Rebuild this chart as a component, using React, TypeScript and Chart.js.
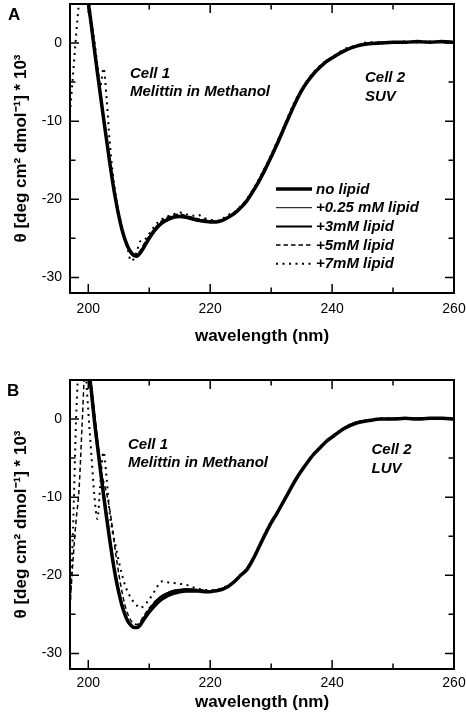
import { useEffect, useRef } from "react";
import { Chart, registerables } from "chart.js";

Chart.register(...registerables);

const FONT = '"Liberation Sans", Arial, Helvetica, sans-serif';

// ---------- data ----------
const wavelengths = [
  197, 197.5, 198, 198.5, 199, 199.5, 200, 200.5, 201, 201.5, 202, 202.5, 203, 203.5, 204, 204.5,
  205, 205.5, 206, 206.5, 207, 207.5, 208, 208.5, 209,
  210, 211, 212, 213, 214, 215, 216, 217, 218, 219, 220, 221, 222, 223, 224, 225, 226, 227, 228, 229,
  230, 231, 232, 233, 234, 235, 236, 237, 238, 239, 240,
  242, 244, 246, 248, 250, 252, 254, 256, 258, 260,
];

const seriesLabels = ["no lipid", "+0.25 mM lipid", "+3mM lipid", "+5mM lipid", "+7mM lipid"];

// Panel A (SUV)
const suvNoLipid = [
  24, 21, 18, 15, 11.5, 8.5, 5.2, 2.3, -0.8, -3.8, -6.7, -9.6, -12.4, -15.2, -17.8, -20.1,
  -22.1, -23.8, -25.1, -26.1, -26.8, -27.2, -27.3, -26.9, -26.3,
  -25.0, -23.9, -23.1, -22.6, -22.3, -22.2, -22.3, -22.5, -22.7, -22.8, -22.9, -22.9, -22.7, -22.3, -21.8, -21.1, -20.2, -19.0, -17.7, -16.2,
  -14.6, -12.9, -11.1, -9.3, -7.6, -6.1, -4.9, -3.9, -3.1, -2.4, -1.9,
  -1.0, -0.4, -0.1, 0.0, 0.1, 0.1, 0.2, 0.1, 0.2, 0.1,
];
const suvLipid025 = [
  23, 20, 17, 14, 11, 8, 5, 2, -1, -4, -7, -9.9, -12.8, -15.5, -18.1, -20.3,
  -22.3, -23.9, -25.2, -26.1, -26.7, -27.0, -27.0, -26.7, -26.1,
  -24.9, -23.8, -23.0, -22.5, -22.2, -22.1, -22.2, -22.4, -22.6, -22.7, -22.8, -22.8, -22.6, -22.2, -21.7, -21.0, -20.1, -18.9, -17.6, -16.1,
  -14.5, -12.8, -11.0, -9.2, -7.5, -6.0, -4.8, -3.8, -3.0, -2.3, -1.8,
  -0.9, -0.3, 0.0, 0.1, 0.1, 0.2, 0.1, 0.2, 0.1, 0.1,
];
const suvLipid3 = [
  24, 21, 18, 14.5, 11, 8, 5, 2.1, -1, -3.9, -6.8, -9.7, -12.5, -15.3, -17.9, -20.2,
  -22.2, -23.8, -25.1, -26.0, -26.7, -27.1, -27.2, -26.8, -26.2,
  -24.9, -23.8, -23.0, -22.5, -22.2, -22.1, -22.2, -22.4, -22.6, -22.8, -22.9, -22.9, -22.7, -22.3, -21.8, -21.1, -20.2, -19.0, -17.6, -16.1,
  -14.5, -12.8, -11.0, -9.2, -7.5, -6.0, -4.9, -3.9, -3.1, -2.4, -1.9,
  -1.0, -0.4, -0.1, 0.0, 0.0, 0.1, 0.1, 0.1, 0.1, 0.0,
];
const suvLipid5 = [
  22, 19, 16, 13, 10.5, 7.5, 4.8, 1.8, -1.2, -4.2, -7.0, -9.8, -12.6, -15.4, -18.0, -20.2,
  -22.2, -23.9, -25.2, -26.2, -26.9, -27.2, -27.1, -26.6, -25.9,
  -24.7, -23.6, -22.8, -22.3, -22.0, -21.9, -22.1, -22.3, -22.5, -22.6, -22.8, -22.8, -22.6, -22.2, -21.6, -20.9, -20.0, -18.8, -17.5, -16.0,
  -14.4, -12.7, -10.9, -9.1, -7.4, -5.9, -4.7, -3.8, -3.0, -2.3, -1.8,
  -0.9, -0.3, 0.0, 0.1, 0.1, 0.1, 0.2, 0.2, 0.1, 0.1,
];
const suvLipid7 = [
  -9, -4, 1, 5.5, 10, 9, 6, 3, 0.3, -2.8, -5.5, -3.2, -7, -12.5, -16.5, -19.5,
  -21.7, -23.5, -25.0, -26.5, -27.9, -27.6, -26.6, -25.4, -25.3,
  -24.4, -23.3, -22.6, -22.2, -21.9, -21.7, -21.9, -22.1, -22.0, -22.4, -22.6, -22.8, -22.5, -22.0, -21.6, -20.9, -20.0, -18.8, -17.4, -15.9,
  -14.3, -12.6, -10.9, -9.0, -7.3, -5.9, -4.7, -3.7, -2.9, -2.3, -1.8,
  -0.8, -0.3, 0.1, 0.1, 0.1, 0.2, 0.1, 0.2, 0.2, 0.1,
];

// Panel B (LUV)
const luvNoLipid = [
  24, 21, 18, 15, 12, 9.5, 6.8, 3.6, -0.2, -3.4, -6.6, -9.7, -12.6, -15.4, -18.0, -20.3,
  -22.2, -23.8, -25.0, -25.9, -26.4, -26.7, -26.7, -26.4, -25.8,
  -24.7, -23.8, -23.1, -22.6, -22.3, -22.1, -22.0, -22.0, -22.0, -22.1, -22.1, -22.0, -21.8, -21.4, -20.8, -20.0, -19.3, -18.0, -16.4, -14.8,
  -13.3, -12.0, -10.6, -9.2, -7.8, -6.6, -5.5, -4.5, -3.7, -2.9, -2.3,
  -1.2, -0.5, -0.2, 0.0, 0.0, 0.1, 0.0, 0.1, 0.1, 0.0,
];
const luvLipid025 = [
  22, 19, 16.5, 14, 11.5, 9.5, 7.5, 4.5, 1, -2.5, -5.8, -9, -12, -14.9, -17.6, -19.9,
  -21.9, -23.5, -24.8, -25.7, -26.3, -26.6, -26.6, -26.2, -25.5,
  -24.3, -23.3, -22.6, -22.2, -21.9, -21.8, -21.7, -21.8, -21.8, -21.9, -22.0, -21.9, -21.7, -21.3, -20.7, -19.9, -19.2, -17.9, -16.3, -14.7,
  -13.2, -11.9, -10.5, -9.1, -7.7, -6.5, -5.4, -4.4, -3.6, -2.8, -2.2,
  -1.1, -0.4, -0.1, 0.0, 0.1, 0.1, 0.1, 0.0, 0.1, 0.1,
];
const luvLipid3 = [
  23, 20, 17, 14.5, 12, 9.5, 7, 4, 0.5, -2.9, -6.2, -9.3, -12.3, -15.1, -17.8, -20.1,
  -22.0, -23.6, -24.9, -25.8, -26.4, -26.7, -26.7, -26.3, -25.6,
  -24.4, -23.4, -22.7, -22.3, -22.0, -21.9, -21.8, -21.8, -21.9, -22.0, -22.0, -21.9, -21.7, -21.4, -20.8, -20.0, -19.2, -17.9, -16.4, -14.8,
  -13.3, -12.0, -10.6, -9.2, -7.8, -6.6, -5.5, -4.5, -3.7, -2.9, -2.3,
  -1.2, -0.5, -0.2, 0.0, 0.0, 0.0, 0.1, 0.1, 0.0, 0.0,
];
const luvLipid5 = [
  -24, -18, -13, -8.8, -0.5, 7, 7.5, 3, -1, -4, -6.5, -8, -9.5, -11.5, -14.2, -17.2,
  -19.8, -22, -23.8, -25, -25.8, -26.2, -26.3, -26, -25.3,
  -24.2, -23.3, -22.7, -22.3, -22.0, -21.9, -21.9, -21.9, -21.9, -22.0, -22.0, -21.9, -21.7, -21.3, -20.7, -19.9, -19.2, -17.9, -16.3, -14.7,
  -13.2, -11.9, -10.5, -9.1, -7.7, -6.5, -5.4, -4.4, -3.6, -2.8, -2.2,
  -1.1, -0.4, -0.1, 0.0, 0.1, 0.0, 0.1, 0.1, 0.0, 0.1,
];
const luvLipid7 = [
  -24, -14, 0, 8, 12, 7, 1, -4.5, -9.8, -12.8, -8, -4.2, -7.5, -12, -14.5, -16.3,
  -18.2, -19.8, -21.2, -22.2, -22.9, -23.5, -23.9, -24.2, -24.0,
  -23.1, -21.9, -20.8, -20.9, -21.0, -21.1, -21.2, -21.5, -21.7, -21.9, -21.9, -21.9, -21.6, -21.3, -20.7, -19.9, -19.1, -17.8, -16.2, -14.6,
  -13.1, -11.9, -10.5, -9.1, -7.7, -6.5, -5.4, -4.4, -3.6, -2.8, -2.2,
  -1.1, -0.4, -0.1, 0.1, 0.1, 0.1, 0.0, 0.1, 0.1, 0.0,
];

const xMajorTicks = [200, 220, 240, 260];
const xMinorTicks = [210, 230, 250];
const yMajorTicks = [-30, -20, -10, 0];
const yMinorTicks = [-25, -15, -5];
const xRange = [197, 260];
const yRange = [-32, 5];

const xAxisTitle = "wavelength (nm)";
const yAxisTitle = "\u03B8 [deg cm\u00B2 dmol\u207B\u00B9] * 10\u00B3";

// ---------- styles ----------
const lineStyles = [
  { width: 3.5, dash: [] as number[] },
  { width: 1, dash: [] as number[] },
  { width: 2, dash: [] as number[] },
  { width: 1.5, dash: [4.5, 3] },
  { width: 2, dash: [2, 4.5] },
];

type PanelSpec = {
  letter: string;
  series: number[][];
  cellLeft: string[];
  cellRight: string[];
  showLegend: boolean;
  padTop: number;
  xAxisHeight: number;
  tickPad: number;
  titlePad: number;
  letterPos: [number, number];
  cellLeftPos: [number, number];
  cellRightPos: [number, number];
};

const panels: PanelSpec[] = [
  {
    letter: "A",
    series: [suvNoLipid, suvLipid025, suvLipid3, suvLipid5, suvLipid7],
    cellLeft: ["Cell 1", "Melittin in Methanol"],
    cellRight: ["Cell 2", "SUV"],
    showLegend: true,
    padTop: 4,
    xAxisHeight: 68,
    tickPad: 8,
    titlePad: 14,
    letterPos: [8, 20],
    cellLeftPos: [130, 77.5],
    cellRightPos: [365, 82],
  },
  {
    letter: "B",
    series: [luvNoLipid, luvLipid025, luvLipid3, luvLipid5, luvLipid7],
    cellLeft: ["Cell 1", "Melittin in Methanol"],
    cellRight: ["Cell 2", "LUV"],
    showLegend: false,
    padTop: 19,
    xAxisHeight: 53,
    tickPad: 6,
    titlePad: 9,
    letterPos: [7, 35],
    cellLeftPos: [128, 87.5],
    cellRightPos: [371.5, 93],
  },
];

function makeDecor(p: PanelSpec) {
  return {
    id: "decor" + p.letter,
    afterDatasetsDraw(chart: any) {
      const { ctx, chartArea: ca, scales } = chart;
      const x = scales.x;
      const y = scales.y;
      ctx.save();
      ctx.setLineDash([]);
      ctx.strokeStyle = "#000";
      ctx.fillStyle = "#000";
      ctx.lineWidth = 2;
      ctx.strokeRect(ca.left, ca.top, ca.right - ca.left, ca.bottom - ca.top);
      ctx.lineWidth = 1.5;
      const xt = (vals: number[], len: number) => {
        vals.forEach((v) => {
          const px = x.getPixelForValue(v);
          ctx.beginPath();
          ctx.moveTo(px, ca.bottom);
          ctx.lineTo(px, ca.bottom - len);
          ctx.moveTo(px, ca.top);
          ctx.lineTo(px, ca.top + len);
          ctx.stroke();
        });
      };
      const yt = (vals: number[], len: number) => {
        vals.forEach((v) => {
          const py = y.getPixelForValue(v);
          ctx.beginPath();
          ctx.moveTo(ca.left, py);
          ctx.lineTo(ca.left + len, py);
          ctx.moveTo(ca.right, py);
          ctx.lineTo(ca.right - len, py);
          ctx.stroke();
        });
      };
      xt(xMajorTicks, 9);
      xt(xMinorTicks, 5.5);
      yt(yMajorTicks, 9);
      yt(yMinorTicks, 5.5);

      ctx.textAlign = "left";
      ctx.textBaseline = "alphabetic";
      ctx.font = `italic bold 15px ${FONT}`;
      p.cellLeft.forEach((t, i) => ctx.fillText(t, p.cellLeftPos[0], p.cellLeftPos[1] + i * 18));
      p.cellRight.forEach((t, i) => ctx.fillText(t, p.cellRightPos[0], p.cellRightPos[1] + i * 18.5));

      ctx.font = `bold 17px ${FONT}`;
      ctx.fillText(p.letter, p.letterPos[0], p.letterPos[1]);

      if (p.showLegend) {
        const x0 = 276;
        const x1 = 312;
        ctx.font = `italic bold 15px ${FONT}`;
        chart.data.datasets.forEach((ds: any, i: number) => {
          const yy = 189 + i * 18.7;
          ctx.lineWidth = ds.borderWidth;
          ctx.setLineDash(ds.borderDash || []);
          ctx.beginPath();
          ctx.moveTo(x0, yy);
          ctx.lineTo(x1, yy);
          ctx.stroke();
          ctx.setLineDash([]);
          ctx.textBaseline = "middle";
          ctx.fillText(ds.label, 316, yy + 0.5);
        });
      }
      ctx.restore();
    },
  };
}

function PanelChart({ spec }: { spec: PanelSpec }) {
  const ref = useRef<HTMLCanvasElement>(null);
  useEffect(() => {
    if (!ref.current) return;
    const datasets = seriesLabels.map((label, i) => ({
      label,
      data: wavelengths.map((w, j) => ({ x: w, y: spec.series[i][j] })),
      borderColor: "#000",
      backgroundColor: "#000",
      borderWidth: lineStyles[i].width,
      borderDash: lineStyles[i].dash,
      pointRadius: 0,
      cubicInterpolationMode: "monotone" as const,
      fill: false,
      clip: 0,
    }));
    const chart = new Chart(ref.current, {
      type: "line",
      data: { datasets },
      options: {
        animation: false,
        responsive: false,
        devicePixelRatio: 1,
        events: [],
        layout: { padding: { top: spec.padTop, right: 12, left: 0, bottom: 0 } },
        plugins: { legend: { display: false }, tooltip: { enabled: false } },
        scales: {
          x: {
            type: "linear",
            min: xRange[0],
            max: xRange[1],
            grid: { display: false, drawTicks: false },
            border: { display: false },
            afterBuildTicks: (s: any) => {
              s.ticks = xMajorTicks.map((v) => ({ value: v }));
            },
            afterFit: (s: any) => {
              s.height = spec.xAxisHeight;
              s.paddingLeft = 0;
              s.paddingRight = 0;
            },
            ticks: {
              color: "#000",
              padding: spec.tickPad,
              maxRotation: 0,
              autoSkip: false,
              font: { family: FONT, size: 14 },
              callback: (v: any) => String(v),
            },
            title: {
              display: true,
              text: xAxisTitle,
              color: "#000",
              font: { family: FONT, size: 17, weight: "bold" },
              padding: { top: 0, bottom: spec.titlePad },
            },
          },
          y: {
            type: "linear",
            min: yRange[0],
            max: yRange[1],
            grid: { display: false, drawTicks: false },
            border: { display: false },
            afterBuildTicks: (s: any) => {
              s.ticks = yMajorTicks.map((v) => ({ value: v }));
            },
            afterFit: (s: any) => {
              s.width = 70;
              s.paddingTop = 0;
              s.paddingBottom = 0;
            },
            ticks: {
              color: "#000",
              padding: 8,
              font: { family: FONT, size: 14 },
              callback: (v: any) => String(v),
            },
            title: {
              display: true,
              text: yAxisTitle,
              color: "#000",
              font: { family: FONT, size: 17, weight: "bold" },
              padding: { top: 11, bottom: 0 },
            },
          },
        },
      },
      plugins: [makeDecor(spec)],
    } as any);
    return () => chart.destroy();
  }, [spec]);
  return (
    <canvas
      ref={ref}
      width={466}
      height={361}
      style={{ display: "block", width: 466, height: 361 }}
    />
  );
}

export default function App() {
  return (
    <div style={{ position: "absolute", left: 0, top: 0, width: 466, height: 722, background: "#fff" }}>
      {panels.map((p) => (
        <PanelChart key={p.letter} spec={p} />
      ))}
    </div>
  );
}
